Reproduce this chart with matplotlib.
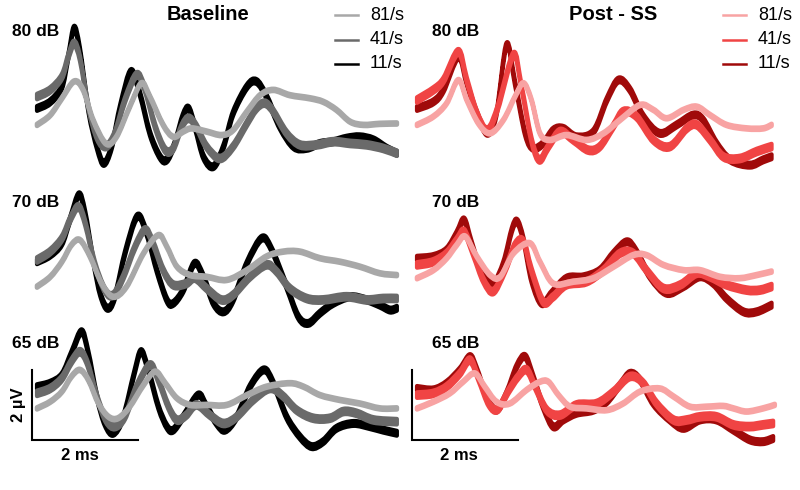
import matplotlib
matplotlib.use("Agg")
import matplotlib.pyplot as plt
from matplotlib.lines import Line2D
from matplotlib.path import Path
from matplotlib.patches import PathPatch

# ---------------- data (time in ms from trace onset, amplitude in µV) ----------------
rates = ["81/s", "41/s", "11/s"]
levels = ["80 dB", "70 dB", "65 dB"]
groups = ["Baseline", "Post - SS"]

# Baseline 80 dB
b80_11_t = [0, 0.25, 0.47, 0.59, 0.70, 0.81, 0.97, 1.13, 1.26, 1.41, 1.57, 1.77, 1.94, 2.13, 2.32, 2.45, 2.60, 2.75, 2.86, 2.98, 3.14, 3.33, 3.52, 3.70, 3.96, 4.14, 4.33, 4.58, 4.84, 5.09, 5.34, 5.59, 5.84, 6.09, 6.35, 6.60, 6.79]
b80_11_v = [0.33, 0.52, 0.95, 1.81, 2.62, 2.00, 0.29, -0.76, -1.24, -0.76, 0.38, 1.38, 0.76, -0.38, -1.05, -1.14, -0.67, 0.10, 0.33, -0.19, -1.05, -1.33, -0.76, 0.19, 0.95, 1.10, 0.67, -0.19, -0.76, -0.81, -0.67, -0.62, -0.52, -0.48, -0.57, -0.81, -0.95]
b80_41_t = [0, 0.25, 0.47, 0.59, 0.70, 0.81, 0.97, 1.13, 1.30, 1.47, 1.66, 1.88, 2.04, 2.23, 2.42, 2.57, 2.73, 2.86, 3.01, 3.20, 3.45, 3.70, 3.96, 4.14, 4.30, 4.46, 4.71, 4.96, 5.28, 5.59, 5.91, 6.22, 6.53, 6.79]
b80_41_v = [0.67, 0.86, 1.24, 1.81, 2.19, 1.76, 0.38, -0.48, -0.76, -0.38, 0.57, 1.29, 0.86, -0.19, -0.86, -0.81, -0.19, 0.05, -0.19, -0.76, -1.10, -0.76, -0.10, 0.33, 0.48, 0.24, -0.38, -0.71, -0.71, -0.62, -0.67, -0.71, -0.81, -0.95]
b80_81_t = [0, 0.25, 0.47, 0.70, 0.87, 1.06, 1.30, 1.50, 1.75, 1.97, 2.13, 2.38, 2.57, 2.76, 2.92, 3.20, 3.48, 3.70, 3.96, 4.21, 4.46, 4.77, 5.15, 5.40, 5.65, 5.91, 6.16, 6.47, 6.79]
b80_81_v = [-0.14, 0.14, 0.62, 1.10, 0.86, 0.00, -0.67, -0.48, 0.38, 1.05, 0.67, -0.14, -0.48, -0.33, -0.24, -0.33, -0.43, -0.29, 0.24, 0.71, 0.86, 0.71, 0.62, 0.52, 0.29, -0.05, -0.14, -0.11, -0.10]

# Baseline 70 dB
b70_11_t = [0, 0.25, 0.47, 0.62, 0.79, 0.91, 1.06, 1.19, 1.33, 1.47, 1.66, 1.89, 2.07, 2.26, 2.45, 2.57, 2.76, 2.97, 3.14, 3.33, 3.52, 3.70, 3.96, 4.24, 4.43, 4.71, 4.93, 5.12, 5.34, 5.59, 5.91, 6.22, 6.47, 6.66, 6.79]
b70_11_v = [-0.05, 0.14, 0.48, 1.14, 1.86, 1.33, 0.00, -0.95, -1.38, -1.05, 0.19, 1.24, 0.76, -0.29, -1.14, -1.24, -0.86, -0.10, -0.48, -1.24, -1.48, -1.14, -0.10, 0.62, 0.29, -0.76, -1.62, -1.81, -1.52, -1.24, -1.05, -1.14, -1.29, -1.43, -1.38]
b70_41_t = [0, 0.25, 0.47, 0.62, 0.78, 0.91, 1.09, 1.28, 1.44, 1.63, 1.85, 2.04, 2.19, 2.38, 2.57, 2.82, 2.98, 3.20, 3.48, 3.70, 4.02, 4.33, 4.52, 4.77, 5.09, 5.40, 5.84, 6.22, 6.53, 6.79]
b70_41_v = [0.00, 0.24, 0.62, 1.14, 1.52, 1.05, -0.10, -0.86, -1.00, -0.48, 0.38, 0.86, 0.48, -0.29, -0.71, -0.67, -0.52, -0.81, -1.14, -1.00, -0.48, -0.14, -0.33, -0.81, -1.10, -1.14, -1.05, -1.14, -1.10, -1.10]
b70_81_t = [0, 0.25, 0.47, 0.65, 0.81, 1.00, 1.22, 1.44, 1.69, 2.01, 2.29, 2.45, 2.64, 2.89, 3.20, 3.58, 3.96, 4.33, 4.65, 4.96, 5.34, 5.72, 6.09, 6.47, 6.79]
b70_81_v = [-0.76, -0.48, -0.05, 0.43, 0.57, 0.10, -0.67, -1.05, -0.76, 0.19, 0.71, 0.38, -0.19, -0.43, -0.48, -0.57, -0.29, 0.10, 0.24, 0.24, 0.05, -0.05, -0.19, -0.38, -0.43]

# Baseline 65 dB
b65_11_t = [0, 0.25, 0.47, 0.65, 0.84, 0.97, 1.13, 1.28, 1.44, 1.63, 1.82, 1.96, 2.10, 2.29, 2.45, 2.57, 2.76, 3.04, 3.20, 3.39, 3.55, 3.77, 4.02, 4.28, 4.46, 4.71, 4.96, 5.18, 5.40, 5.65, 5.97, 6.28, 6.53, 6.79]
b65_11_v = [0.38, 0.48, 0.71, 1.33, 1.95, 1.33, 0.10, -0.67, -0.95, -0.48, 0.67, 1.38, 0.86, -0.19, -0.76, -0.86, -0.48, 0.14, -0.19, -0.67, -0.86, -0.48, 0.38, 0.86, 0.48, -0.48, -1.05, -1.33, -1.19, -0.81, -0.67, -0.76, -0.86, -0.95]
b65_41_t = [0, 0.25, 0.47, 0.65, 0.81, 0.95, 1.13, 1.30, 1.47, 1.66, 1.88, 2.13, 2.29, 2.48, 2.64, 2.82, 3.01, 3.26, 3.52, 3.77, 4.08, 4.40, 4.65, 4.90, 5.21, 5.53, 5.78, 6.03, 6.35, 6.79]
b65_41_v = [0.19, 0.33, 0.62, 1.10, 1.38, 1.05, 0.10, -0.57, -0.76, -0.48, 0.38, 1.00, 0.57, -0.19, -0.57, -0.43, -0.14, -0.43, -0.67, -0.48, 0.00, 0.33, 0.10, -0.29, -0.52, -0.52, -0.33, -0.38, -0.57, -0.62]
b65_81_t = [0, 0.25, 0.47, 0.65, 0.81, 0.97, 1.16, 1.35, 1.53, 1.75, 2.01, 2.23, 2.42, 2.64, 2.89, 3.20, 3.58, 3.96, 4.33, 4.77, 5.03, 5.34, 5.72, 6.09, 6.47, 6.79]
b65_81_v = [-0.24, -0.05, 0.24, 0.67, 0.86, 0.57, -0.10, -0.48, -0.52, -0.19, 0.43, 0.81, 0.48, 0.05, -0.14, -0.14, -0.14, 0.14, 0.38, 0.48, 0.38, 0.14, 0.00, -0.10, -0.24, -0.24]

# Post-SS 80 dB
p80_11_t = [0, 0.31, 0.50, 0.78, 0.94, 1.13, 1.33, 1.50, 1.69, 1.85, 2.04, 2.19, 2.38, 2.57, 2.76, 3.01, 3.33, 3.58, 3.80, 4.02, 4.27, 4.58, 4.90, 5.21, 5.40, 5.65, 5.91, 6.28, 6.53, 6.69]
p80_11_v = [0.33, 0.52, 0.86, 1.81, 1.05, 0.19, -0.38, 0.19, 2.14, 1.05, -0.38, -0.81, -0.67, -0.29, -0.24, -0.48, -0.33, 0.57, 1.14, 0.86, 0.10, -0.38, -0.14, 0.14, 0.00, -0.67, -1.14, -1.29, -1.14, -1.05]
p80_41_t = [0, 0.31, 0.50, 0.78, 0.94, 1.13, 1.33, 1.53, 1.82, 1.97, 2.16, 2.31, 2.48, 2.70, 2.95, 3.23, 3.45, 3.70, 3.89, 4.14, 4.46, 4.77, 5.09, 5.28, 5.53, 5.78, 6.09, 6.41, 6.69]
p80_41_v = [0.57, 0.86, 1.14, 1.95, 1.14, 0.19, -0.29, 0.38, 1.86, 0.95, -0.57, -1.14, -0.76, -0.33, -0.57, -0.86, -0.76, -0.19, 0.24, 0.10, -0.57, -0.76, -0.24, -0.14, -0.57, -1.05, -1.10, -0.90, -0.76]
p80_81_t = [0, 0.31, 0.56, 0.78, 0.94, 1.16, 1.38, 1.63, 1.85, 2.01, 2.16, 2.32, 2.51, 2.82, 3.20, 3.52, 3.83, 4.21, 4.46, 4.71, 5.03, 5.28, 5.53, 5.84, 6.22, 6.53, 6.69]
p80_81_v = [-0.14, 0.10, 0.48, 1.14, 0.57, -0.10, -0.38, 0.00, 0.67, 1.05, 0.57, -0.38, -0.57, -0.43, -0.57, -0.38, 0.00, 0.43, 0.29, 0.05, 0.29, 0.38, 0.14, -0.14, -0.24, -0.24, -0.14]

# Post-SS 70 dB
p70_11_t = [0, 0.31, 0.56, 0.75, 0.89, 1.03, 1.22, 1.44, 1.63, 1.79, 1.89, 2.01, 2.16, 2.35, 2.54, 2.82, 3.14, 3.45, 3.71, 3.96, 4.14, 4.40, 4.71, 5.03, 5.34, 5.59, 5.84, 6.16, 6.41, 6.69]
p70_11_v = [0.05, 0.10, 0.29, 0.76, 1.14, 0.48, -0.38, -0.67, -0.10, 0.86, 1.10, 0.57, -0.57, -1.24, -0.95, -0.52, -0.48, -0.29, 0.19, 0.52, 0.24, -0.48, -0.95, -0.76, -0.48, -0.67, -1.10, -1.48, -1.48, -1.29]
p70_41_t = [0, 0.31, 0.56, 0.75, 0.89, 1.06, 1.25, 1.44, 1.66, 1.85, 2.01, 2.16, 2.38, 2.57, 2.82, 3.20, 3.52, 3.83, 4.08, 4.33, 4.65, 4.97, 5.28, 5.53, 5.84, 6.22, 6.47, 6.69]
p70_41_v = [-0.14, -0.05, 0.19, 0.57, 0.81, 0.19, -0.57, -0.90, -0.29, 0.43, 0.52, -0.29, -1.19, -1.05, -0.71, -0.62, -0.29, 0.19, 0.19, -0.29, -0.81, -0.71, -0.38, -0.48, -0.71, -0.86, -0.86, -0.76]
p70_81_t = [0, 0.31, 0.56, 0.75, 0.91, 1.13, 1.38, 1.57, 1.82, 2.13, 2.32, 2.57, 2.95, 3.33, 3.71, 4.08, 4.33, 4.65, 5.03, 5.34, 5.72, 6.09, 6.41, 6.69]
p70_81_v = [-0.52, -0.29, 0.05, 0.43, 0.67, 0.10, -0.43, -0.48, 0.19, 0.48, -0.05, -0.67, -0.62, -0.52, -0.19, 0.14, 0.14, -0.14, -0.29, -0.29, -0.48, -0.52, -0.43, -0.33]

# Post-SS 65 dB
p65_11_t = [0, 0.31, 0.56, 0.81, 1.00, 1.13, 1.31, 1.50, 1.69, 1.88, 2.04, 2.19, 2.38, 2.57, 2.76, 3.01, 3.33, 3.58, 3.83, 4.02, 4.21, 4.46, 4.77, 5.03, 5.34, 5.65, 5.97, 6.28, 6.53, 6.72]
p65_11_v = [0.33, 0.29, 0.48, 0.86, 1.24, 0.86, 0.10, -0.29, 0.19, 0.95, 1.24, 0.67, -0.19, -0.76, -0.57, -0.38, -0.29, -0.05, 0.43, 0.76, 0.57, -0.10, -0.57, -0.81, -0.57, -0.57, -0.86, -1.14, -1.19, -1.10]
p65_41_t = [0, 0.31, 0.56, 0.81, 1.00, 1.16, 1.35, 1.52, 1.72, 1.91, 2.07, 2.23, 2.45, 2.70, 3.01, 3.39, 3.71, 4.02, 4.27, 4.52, 4.84, 5.09, 5.34, 5.65, 5.97, 6.28, 6.53, 6.72]
p65_41_v = [0.14, 0.19, 0.38, 0.76, 1.14, 0.62, -0.10, -0.27, 0.24, 0.67, 0.86, 0.38, -0.29, -0.43, -0.14, -0.10, 0.24, 0.67, 0.48, -0.10, -0.57, -0.57, -0.48, -0.48, -0.71, -0.76, -0.71, -0.67]
p65_81_t = [0, 0.31, 0.62, 0.87, 1.09, 1.28, 1.50, 1.75, 2.07, 2.32, 2.48, 2.67, 2.89, 3.20, 3.58, 3.89, 4.21, 4.58, 4.84, 5.15, 5.47, 5.78, 5.97, 6.22, 6.53, 6.75]
p65_81_v = [-0.24, -0.05, 0.19, 0.52, 0.76, 0.38, -0.05, -0.10, 0.29, 0.52, 0.52, 0.14, -0.19, -0.24, -0.29, -0.10, 0.24, 0.33, 0.10, -0.19, -0.19, -0.17, -0.24, -0.33, -0.24, -0.14]

scale_ms = 2
scale_uv = 2

# ---------------- styling / layout ----------------
W, H = 800, 490
PX_PER_MS = 53.0
PX_PER_UV = 35.0
colors = {
    "Baseline": {"81/s": "#a8a8a8", "41/s": "#6a6a6a", "11/s": "#000000"},
    "Post - SS": {"81/s": "#f8a3a3", "41/s": "#f04444", "11/s": "#a00a0a"},
}
stroke = {"81/s": 3.3, "41/s": 3.0, "11/s": 3.0}          # pt, minimum trace thickness
band = {"81/s": 0.03, "41/s": 0.08, "11/s": 0.07}         # vertical half-thickness of shaded trace (µV)
col_x0 = {"Baseline": 37, "Post - SS": 417}                # pixel x of trace onset
row_y0 = {"80 dB": 120, "70 dB": 260, "65 dB": 400}        # pixel y of baseline

traces = {
    ("Baseline", "80 dB"): {"11/s": (b80_11_t, b80_11_v), "41/s": (b80_41_t, b80_41_v), "81/s": (b80_81_t, b80_81_v)},
    ("Baseline", "70 dB"): {"11/s": (b70_11_t, b70_11_v), "41/s": (b70_41_t, b70_41_v), "81/s": (b70_81_t, b70_81_v)},
    ("Baseline", "65 dB"): {"11/s": (b65_11_t, b65_11_v), "41/s": (b65_41_t, b65_41_v), "81/s": (b65_81_t, b65_81_v)},
    ("Post - SS", "80 dB"): {"11/s": (p80_11_t, p80_11_v), "41/s": (p80_41_t, p80_41_v), "81/s": (p80_81_t, p80_81_v)},
    ("Post - SS", "70 dB"): {"11/s": (p70_11_t, p70_11_v), "41/s": (p70_41_t, p70_41_v), "81/s": (p70_81_t, p70_81_v)},
    ("Post - SS", "65 dB"): {"11/s": (p65_11_t, p65_11_v), "41/s": (p65_41_t, p65_41_v), "81/s": (p65_81_t, p65_81_v)},
}

plt.rcParams["font.family"] = ["Liberation Sans", "DejaVu Sans"]
fig = plt.figure(figsize=(W / 100, H / 100), dpi=100)
fig.patch.set_facecolor("white")
ax = fig.add_axes([0, 0, 1, 1])
ax.set_xlim(0, W / PX_PER_MS)
ax.set_ylim(0, H / PX_PER_UV)
ax.axis("off")


def fx(px):
    return px / W


def fy(py):
    return 1 - py / H


def bezier_verts(xs, ys):
    """Cubic Bezier vertices passing through every data point (Catmull-Rom tangents)."""
    pts = list(zip(xs, ys))
    n = len(pts)
    verts = [pts[0]]
    for i in range(n - 1):
        p0 = pts[i - 1] if i > 0 else pts[i]
        p1 = pts[i]
        p2 = pts[i + 1]
        p3 = pts[i + 2] if i + 2 < n else pts[i + 1]
        c1 = (p1[0] + (p2[0] - p0[0]) / 6.0, p1[1] + (p2[1] - p0[1]) / 6.0)
        c2 = (p2[0] - (p3[0] - p1[0]) / 6.0, p2[1] - (p3[1] - p1[1]) / 6.0)
        verts += [c1, c2, p2]
    return verts


def band_path(xs, ys, e):
    up = bezier_verts(xs, [y + e for y in ys])
    lo = bezier_verts(xs, [y - e for y in ys])[::-1]
    verts = up + lo + [up[0]]
    codes = ([Path.MOVETO] + [Path.CURVE4] * (len(up) - 1) + [Path.LINETO]
             + [Path.CURVE4] * (len(lo) - 1) + [Path.CLOSEPOLY])
    return Path(verts, codes)


draw_order = ["11/s", "41/s", "81/s"]
for (g, lev), tr in traces.items():
    t0 = col_x0[g] / PX_PER_MS
    v0 = (H - row_y0[lev]) / PX_PER_UV
    for r in draw_order:
        t, v = tr[r]
        path = band_path([t0 + ti for ti in t], [v0 + vi for vi in v], band[r])
        ax.add_patch(PathPatch(path, facecolor=colors[g][r], edgecolor=colors[g][r],
                               lw=stroke[r], joinstyle="round", capstyle="butt", zorder=3))

# titles
fig.text(fx(208), fy(15), "Baseline", ha="center", va="center", fontsize=14.5, fontweight="bold")
fig.text(fx(613), fy(15), "Post - SS", ha="center", va="center", fontsize=14.5, fontweight="bold")

# level labels
lab_pos = {"80 dB": 32, "70 dB": 202, "65 dB": 343}
for lev in levels:
    fig.text(fx(12), fy(lab_pos[lev]), lev, ha="left", va="center", fontsize=12.5, fontweight="bold")
    fig.text(fx(432), fy(lab_pos[lev]), lev, ha="left", va="center", fontsize=12.5, fontweight="bold")

# legends
leg_y = {"81/s": 15, "41/s": 40, "11/s": 64}
for g, lx in [("Baseline", 335), ("Post - SS", 723)]:
    for r in rates:
        y = fy(leg_y[r])
        fig.add_artist(Line2D([fx(lx), fx(lx + 23)], [y, y], transform=fig.transFigure,
                              color=colors[g][r], lw=1.8))
        fig.text(fx(lx + 35), y, r, ha="left", va="center", fontsize=13)

# scale bars
for sx in [32, 412]:
    x0 = sx / PX_PER_MS
    y0 = (H - 440) / PX_PER_UV
    ax.plot([x0, x0, x0 + scale_ms], [y0 + scale_uv, y0, y0], color="black", lw=1.5,
            solid_joinstyle="miter", zorder=2)
fig.text(fx(80), fy(455), "2 ms", ha="center", va="center", fontsize=12, fontweight="bold")
fig.text(fx(459), fy(455), "2 ms", ha="center", va="center", fontsize=12, fontweight="bold")
fig.text(fx(19), fy(405), "2 µV", ha="center", va="center", fontsize=12, fontweight="bold", rotation=90)

fig.savefig("out.png", dpi=100, facecolor="white")
